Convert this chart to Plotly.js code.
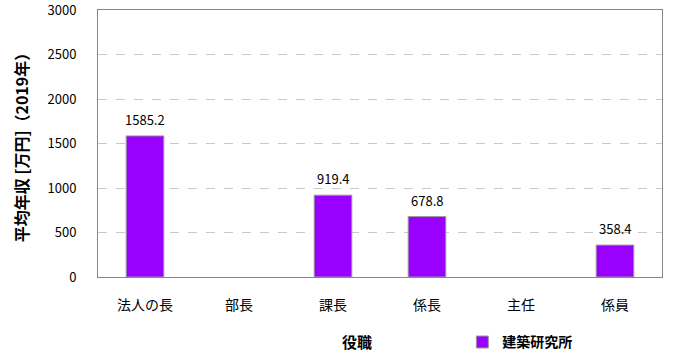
<!DOCTYPE html>
<html><head><meta charset="utf-8">
<script src="https://cdn.plot.ly/plotly-3.0.1.min.js"></script>
<style>html,body{margin:0;padding:0;background:#fff}</style>
</head><body><div id="chart" style="width:684px;height:363px"></div>
<script>
const categories = ["法人の長", "部長", "課長", "係長", "主任", "係員"];
const values = [1585.2, null, 919.4, 678.8, null, 358.4];
const seriesName = "建築研究所";
const yTicks = [0, 500, 1000, 1500, 2000, 2500, 3000];
const xTitle = "役職";
const yTitle = "平均年収 [万円]（2019年）";

const font = "'Noto Sans CJK JP', 'Noto Sans', sans-serif";

const trace = {
  type: "bar", x: categories, y: values, name: seriesName,
  width: 0.4,
  marker: {color: "#9900FF", line: {color: "#9a9a9a", width: 1}},
  hoverinfo: "none"
};

const annotations = categories.map((c, i) => values[i] == null ? null : ({
  x: c, y: values[i], text: values[i].toFixed(1), showarrow: false,
  xref: "x", yref: "y", yanchor: "bottom", yshift: 5,
  font: {family: font, size: 13, color: "#000"}
})).filter(a => a);

annotations.push({
  text: xTitle, xref: "paper", yref: "paper", x: 0.459, y: -0.24,
  xanchor: "center", yanchor: "middle", showarrow: false,
  font: {family: font, size: 15, color: "#000", weight: "bold"}
});

const layout = {
  width: 684, height: 363,
  margin: {l: 98, r: 22, t: 10, b: 86, autoexpand: false},
  paper_bgcolor: "#fff", plot_bgcolor: "#fff",
  showlegend: true,
  legend: {orientation: "h", x: 0.646, xanchor: "left", y: -0.245, yanchor: "middle",
    font: {family: font, size: 14, color: "#000", weight: "bold"}, itemwidth: 30},
  xaxis: {
    type: "category", showline: true, linecolor: "#868686", linewidth: 1, mirror: true,
    ticks: "", ticklabelstandoff: 15, automargin: false,
    tickfont: {family: font, size: 14, color: "#000"}
  },
  yaxis: {
    range: [0, 3000], tickvals: yTicks, ticktext: yTicks.map(String),
    ticklabeloverflow: "allow",
    showline: true, linecolor: "#868686", linewidth: 1, mirror: true,
    showgrid: true, gridcolor: "#c8c8c8", griddash: "dash", gridwidth: 1,
    zeroline: false, ticks: "", ticklabelstandoff: 18, automargin: false,
    tickfont: {family: font, size: 13, color: "#000"},
    title: {text: yTitle, font: {family: font, size: 16, color: "#000", weight: "bold"}, standoff: 14}
  },
  annotations: annotations
};

Plotly.newPlot("chart", [trace], layout, {staticPlot: true, displayModeBar: false});
</script></body></html>
